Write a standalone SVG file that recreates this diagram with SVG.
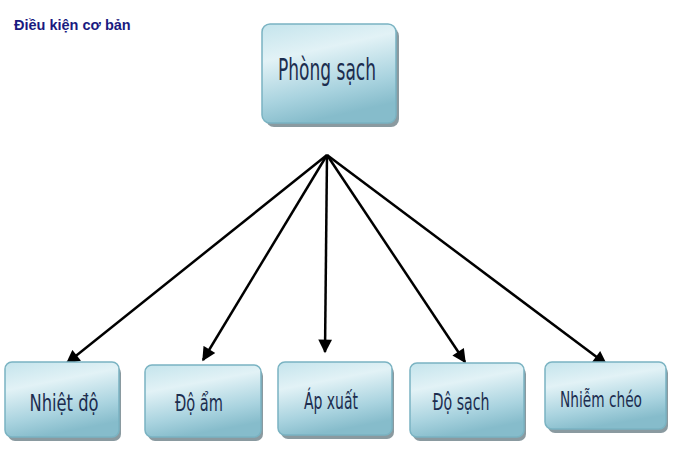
<svg xmlns="http://www.w3.org/2000/svg" width="680" height="449" viewBox="0 0 680 449">
<defs>
<linearGradient id="g" x1="0" y1="0" x2="0.3" y2="1">
<stop offset="0" stop-color="#c4e4ec"/>
<stop offset="0.35" stop-color="#e2f2f6"/>
<stop offset="0.75" stop-color="#a9d3df"/>
<stop offset="1" stop-color="#86bccb"/>
</linearGradient>
<marker id="ah" viewBox="0 0 10 10" refX="9" refY="5" markerWidth="6" markerHeight="5.5" orient="auto" markerUnits="strokeWidth">
<path d="M0,0 L10,5 L0,10 z" fill="#000"/>
</marker>
<style>
.box{fill:url(#g);stroke:#7ab3c2;stroke-width:1.5}
.sh{fill:#8a9aa0}
.lbl{font-family:"DejaVu Sans Condensed","DejaVu Sans","Noto Sans",sans-serif;fill:#1c2d4f;text-anchor:middle}
.ln{stroke:#000;stroke-width:2.5;fill:none;marker-end:url(#ah)}
</style>
</defs>
<text x="14" y="30" font-family="Liberation Sans,Arial,sans-serif" font-weight="bold" font-size="14.5" fill="#1a1a80">Điều kiện cơ bản</text>
<g id="connectors">
<line class="ln" x1="327" y1="155" x2="67" y2="363"/>
<line class="ln" x1="327" y1="155" x2="203" y2="360"/>
<line class="ln" x1="327" y1="155" x2="325" y2="352"/>
<line class="ln" x1="327" y1="155" x2="465" y2="362"/>
<line class="ln" x1="327" y1="155" x2="606" y2="364"/>
</g>
<g id="n0">
<rect class="sh" x="266" y="28" width="133" height="99" rx="8"/>
<rect class="box" x="262" y="24" width="134" height="99" rx="8"/>
<text class="lbl" x="327" y="80" font-size="30" textLength="98" lengthAdjust="spacingAndGlyphs">Phòng sạch</text>
</g>
<g id="n1">
<rect class="sh" x="8" y="366" width="113" height="75" rx="7"/>
<rect class="box" x="5" y="362" width="114" height="75" rx="7"/>
<text class="lbl" x="64" y="411" font-size="23" textLength="69" lengthAdjust="spacingAndGlyphs">Nhiệt độ</text>
</g>
<g id="n2">
<rect class="sh" x="148" y="369" width="115" height="72" rx="7"/>
<rect class="box" x="145" y="365" width="116" height="72" rx="7"/>
<text class="lbl" x="199" y="411" font-size="23" textLength="48" lengthAdjust="spacingAndGlyphs">Độ ẩm</text>
</g>
<g id="n3">
<rect class="sh" x="281" y="366" width="113" height="73" rx="7"/>
<rect class="box" x="278" y="362" width="114" height="73" rx="7"/>
<text class="lbl" x="331" y="409" font-size="23" textLength="54" lengthAdjust="spacingAndGlyphs">Áp xuất</text>
</g>
<g id="n4">
<rect class="sh" x="413" y="367" width="113" height="74" rx="7"/>
<rect class="box" x="410" y="363" width="114" height="74" rx="7"/>
<text class="lbl" x="461" y="410" font-size="23" textLength="57" lengthAdjust="spacingAndGlyphs">Độ sạch</text>
</g>
<g id="n5">
<rect class="sh" x="548" y="366" width="120" height="67" rx="7"/>
<rect class="box" x="545" y="362" width="121" height="67" rx="7"/>
<text class="lbl" x="601" y="407" font-size="22" textLength="82" lengthAdjust="spacingAndGlyphs">Nhiễm chéo</text>
</g>
</svg>
